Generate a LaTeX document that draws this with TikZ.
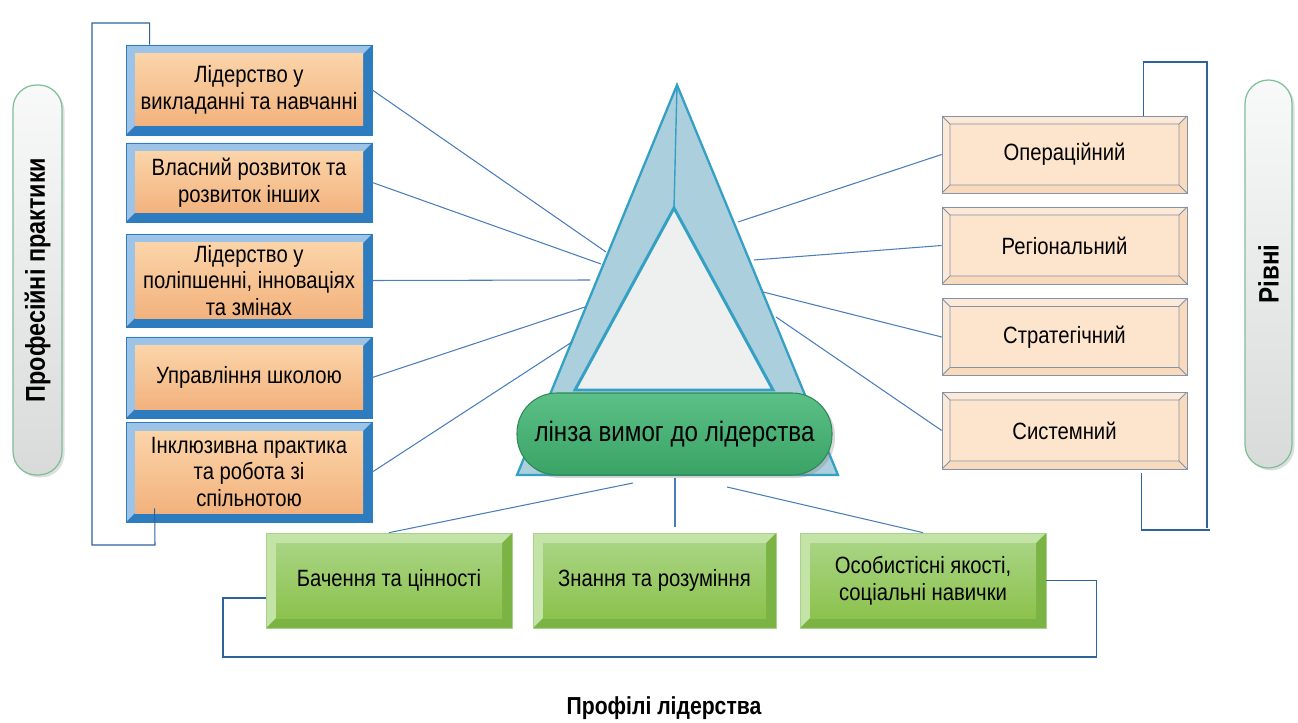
\documentclass[tikz,border=0pt]{standalone}
\usepackage{fontspec}
\setmainfont{Liberation Sans}[FakeStretch=0.86]
\usetikzlibrary{positioning,calc,shadows}

\definecolor{bluelight}{HTML}{9DC3E6}
\definecolor{bluedark}{HTML}{2E7CC0}
\definecolor{orangetop}{HTML}{FBD4A9}
\definecolor{orangebot}{HTML}{F2B27D}
\definecolor{peach}{HTML}{FDE4CC}
\definecolor{peachlight}{HTML}{FDE9D8}
\definecolor{peachdark}{HTML}{F9DABD}
\definecolor{peachline}{HTML}{8393AA}
\definecolor{greenlight}{HTML}{C4E3A6}
\definecolor{greendark}{HTML}{7BB444}
\definecolor{greentop}{HTML}{A8D483}
\definecolor{greenbot}{HTML}{8CC24D}
\definecolor{greenedge}{HTML}{A9D18E}
\definecolor{lenstop}{HTML}{5BC087}
\definecolor{lensbot}{HTML}{3AA365}
\definecolor{lensedge}{HTML}{2E8A55}
\definecolor{pillline}{HTML}{7DC096}
\definecolor{trifill}{HTML}{ACCFDE}
\definecolor{triline}{HTML}{33A0C4}
\definecolor{triinner}{HTML}{EEF0EF}
\definecolor{connline}{HTML}{4A7EBB}
\definecolor{brackline}{HTML}{2F639C}

% bevelled frame: top/left colour, bottom/right colour, inner top, inner bottom, inner lines, depth
\newcommand\bevel[6]{%
  \coordinate (bvA) at (path picture bounding box.south west);
  \coordinate (bvC) at (path picture bounding box.north east);
  \coordinate (bvB) at (bvA|-bvC);
  \coordinate (bvD) at (bvC|-bvA);
  \coordinate (bva) at ($(bvA)+(#6,#6)$);
  \coordinate (bvc) at ($(bvC)-(#6,#6)$);
  \coordinate (bvb) at (bva|-bvc);
  \coordinate (bvd) at (bvc|-bva);
  \fill[#1] (bvA) -- (bvB) -- (bvC) -- (bvc) -- (bvb) -- (bva) -- cycle;
  \fill[#2] (bvA) -- (bvD) -- (bvC) -- (bvc) -- (bvd) -- (bva) -- cycle;
  \shade[top color=#3, bottom color=#4] (bva) rectangle (bvc);
  \draw[#5] (bva) rectangle (bvc) (bvA) -- (bva) (bvB) -- (bvb) (bvC) -- (bvc) (bvD) -- (bvd);
}

\tikzset{
  txt/.style    = {font=\fontsize{13.4}{15.2}\selectfont, align=center, inner sep=1.5mm},
  lbox/.style   = {txt, rectangle, draw=bluedark, minimum width=49.2mm,
                   path picture={\bevel{bluelight}{bluedark}{orangetop}{orangebot}{draw=none}{1.8mm}}},
  rbox/.style   = {txt, rectangle, draw=peachline, minimum width=49mm, minimum height=15.4mm,
                   path picture={\bevel{peachlight}{peachdark}{peach}{peach}{draw=peachline, line width=0.5pt}{1.6mm}}},
  gbox/.style   = {txt, rectangle, draw=greenedge, minimum width=49.2mm, minimum height=19mm,
                   path picture={\bevel{greenlight}{greendark}{greentop}{greenbot}{draw=none}{2mm}}},
  pill/.style   = {rectangle, rounded corners=4.7mm, draw=pillline, line width=0.7pt,
                   top color=white!60!triinner, bottom color=triinner!85!black!60!triinner,
                   font=\fontsize{15.5}{17}\selectfont\bfseries,
                   drop shadow={opacity=0.25, shadow xshift=0.5mm, shadow yshift=-0.5mm}},
  lens/.style   = {rectangle, rounded corners=8mm, draw=lensedge, line width=0.6pt,
                   top color=lenstop, bottom color=lensbot, minimum width=63mm, minimum height=16.4mm,
                   font=\fontsize{16}{18}\selectfont,
                   drop shadow={opacity=0.3, shadow xshift=0.6mm, shadow yshift=-0.6mm}},
  conn/.style   = {draw=connline, line width=0.6pt},
  bracket/.style= {draw=brackline, line width=0.6pt},
  title/.style  = {font=\fontsize{14}{16}\selectfont\bfseries},
}

\begin{document}
\begin{tikzpicture}[x=0.2mm, y=-0.2mm]
  \useasboundingbox (0,0) rectangle (1298,723);

  % triangle
  \draw[line width=1.3pt, draw=triline, fill=trifill, line join=miter]
    (677,85) -- (838,475) -- (517,475) -- cycle;
  \draw[line width=1.7pt, draw=triline, fill=triinner, line join=miter]
    (674,208) -- (773,390) -- (575,390) -- cycle;
  \draw[line width=0.8pt, draw=triline] (677,85) -- (674,208);

  \coordinate (tl1) at (606,252);
  \coordinate (tl2) at (601,264);
  \coordinate (tl3) at (590,280);
  \coordinate (tl4) at (585,307);
  \coordinate (tl5) at (572,342);
  \coordinate (tr1) at (738,222);
  \coordinate (tr2) at (754,260);
  \coordinate (tr3) at (763,292);
  \coordinate (tr4) at (776,317);
  \coordinate (tb1) at (633,483);
  \coordinate (tb2) at (675,478);
  \coordinate (tb3) at (727,487);

  % professional practices
  \node[lbox, minimum height=18mm]   (p1) at (249,90)    {Лідерство у\\викладанні та навчанні};
  \node[lbox, minimum height=15.8mm] (p2) at (249,182.5) {Власний розвиток та\\розвиток інших};
  \node[lbox, minimum height=18.6mm] (p3) at (249,280.5) {Лідерство у\\поліпшенні, інноваціях\\та змінах};
  \node[lbox, minimum height=16.2mm] (p4) at (249,377.5) {Управління школою};
  \node[lbox, minimum height=20mm]   (p5) at (249,472)   {Інклюзивна практика\\та робота зі\\спільнотою};

  % levels
  \node[rbox] (o1) at (1064.5,154.5) {Операційний};
  \node[rbox] (o2) at (1064.5,245.5) {Регіональний};
  \node[rbox] (o3) at (1064.5,337)   {Стратегічний};
  \node[rbox] (o4) at (1064.5,430.5) {Системний};

  % profiles
  \node[gbox] (g1) at (389,580.5)   {Бачення та цінності};
  \node[gbox, minimum width=48.6mm] (g2) at (654.5,580.5) {Знання та розуміння};
  \node[gbox] (g3) at (923,580.5)   {Особистісні якості,\\соціальні навички};

  \node[lens] (ln) at (674.5,434) {лінза вимог до лідерства};

  \node[pill, rotate=90, minimum width=78mm, minimum height=9.8mm]   (pp) at (37.5,280)  {Професійні практики};
  \node[pill, rotate=90, minimum width=77.6mm, minimum height=9.4mm, font=\fontsize{16}{18}\selectfont\bfseries] (rv) at (1268.5,274) {Рівні};

  \node[title] (pt) at (664,708) {Профілі лідерства};

  \foreach \i in {1,...,5} \draw[conn] (p\i.east) -- (tl\i);
  \foreach \i in {1,...,4} \draw[conn] (tr\i) -- (o\i.west);
  \draw[conn] (tb1) -- (g1.north);
  \draw[conn] (tb2) -- ($(tb2 |- g2.north)+(0,-6)$);
  \draw[conn] (tb3) -- (g3.north);

  \draw[bracket] ($(p1.north west)+(24,0)$) |- (92,23) |- (155,545) -- ($(p5.south west)+(29,-14)$);
  \draw[bracket] ($(o1.north west)+(202,0)$) |- (1207,62) -- (1207,528);
  \draw[bracket] ($(o4.south west)+(200,4)$) |- (1210,530);
  \draw[bracket] ($(g1.west)+(0,17.5)$) -| (223,657) -| ($(g3.east)+(50,0)$) -- (g3.east);

\end{tikzpicture}
\end{document}
